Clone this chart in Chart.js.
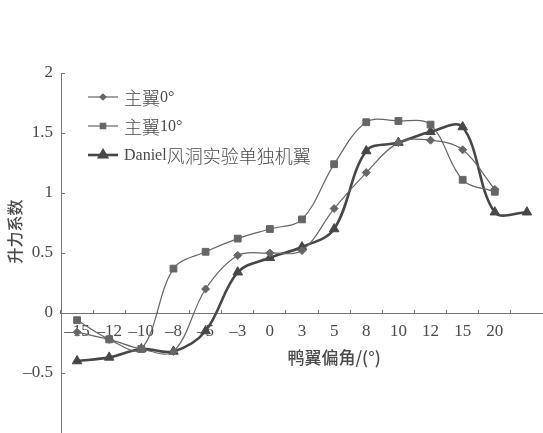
<!DOCTYPE html>
<html>
<head>
<meta charset="utf-8">
<script src="https://cdn.jsdelivr.net/npm/chart.js@4.4.0/dist/chart.umd.min.js"></script>
<style>
  html, body { margin: 0; padding: 0; background: #fff; }
  #wrap { width: 543px; height: 433px; }
</style>
</head>
<body>
<div id="wrap"><canvas id="liftChart" width="543" height="433"></canvas></div>
<script>
// canard deflection categories (last slot is unlabeled)
const angles = ['–15', '–12', '–10', '–8', '–5', '–3', '0', '3', '5', '8', '10', '12', '15', '20', ''];

const seriesNames = ['主翼0°', '主翼10°', 'Daniel风洞实验单独机翼'];
const wing0 = [-0.16, -0.22, -0.30, -0.32, 0.20, 0.48, 0.50, 0.52, 0.87, 1.17, 1.42, 1.44, 1.36, 1.03, null];
const wing10 = [-0.06, -0.22, -0.30, 0.37, 0.51, 0.62, 0.70, 0.78, 1.24, 1.59, 1.60, 1.57, 1.11, 1.01, null];
const daniel = [-0.40, -0.37, -0.30, -0.32, -0.15, 0.34, 0.46, 0.55, 0.70, 1.35, 1.42, 1.51, 1.55, 0.84, 0.84];

const yTicks = [2, 1.5, 1, 0.5, 0, -0.5];

const SERIF = '"Liberation Serif", "Times New Roman", serif';
const CJK = '"Noto Sans CJK SC", sans-serif';
const AXIS = '#777';
const INK = '#4a4a4a';

// draw a string, switching font between latin and CJK runs
function mixedText(ctx, str, x, y, latinPx, cjkPx) {
    const runs = str.match(/[\u4e00-\u9fff]+|[^\u4e00-\u9fff]+/g) || [];
    runs.forEach(function(run) {
        const isCjk = /[\u4e00-\u9fff]/.test(run);
        ctx.font = isCjk ? '300 ' + cjkPx + 'px ' + CJK : latinPx + 'px ' + SERIF;
        ctx.fillText(run, x, y);
        x += ctx.measureText(run).width;
    });
}

const styles = [
    { color: '#666', width: 1.2, point: 'rectRot', radius: 4 },
    { color: '#666', width: 1.2, point: 'rect', radius: 4.8 },
    { color: '#474747', width: 2.6, point: 'triangle', radius: 5.5 }
];

// scales should not reserve room for half-labels at their ends
function noEdgePadding(scale) {
    scale.paddingTop = 0;
    scale.paddingBottom = 0;
    scale.paddingLeft = 0;
    scale.paddingRight = 0;
}

const decorations = {
    id: 'decorations',
    afterDraw: function(chart) {
        const ctx = chart.ctx;
        const xs = chart.scales.x;
        const ys = chart.scales.y;
        const area = chart.chartArea;
        ctx.save();
        ctx.fillStyle = INK;
        ctx.textBaseline = 'middle';

        // x axis title
        ctx.font = '500 17px ' + CJK;
        ctx.textAlign = 'center';
        ctx.fillText('鸭翼偏角/(°)', xs.getPixelForValue(8), ys.getPixelForValue(-0.37));

        // y axis title
        ctx.save();
        ctx.translate(15, ys.getPixelForValue(0.68));
        ctx.rotate(-Math.PI / 2);
        ctx.font = '500 16px ' + CJK;
        ctx.fillText('升力系数', 0, 0);
        ctx.restore();

        // legend inside plot, upper left
        ctx.textAlign = 'left';
        seriesNames.forEach(function(name, i) {
            const s = styles[i];
            const y = area.top + 24 + i * 29;
            const x0 = area.left + 27;
            ctx.strokeStyle = s.color;
            ctx.lineWidth = s.width;
            ctx.beginPath();
            ctx.moveTo(x0, y);
            ctx.lineTo(x0 + 30, y);
            ctx.stroke();
            ctx.fillStyle = s.color;
            Chart.helpers.drawPoint(ctx, { pointStyle: s.point, radius: s.radius - 1, borderWidth: 1 }, x0 + 15, y);
            ctx.fillStyle = INK;
            mixedText(ctx, name, x0 + 36, y + 1, 16, 18);
        });
        ctx.restore();
    }
};

const datasets = [wing0, wing10, daniel].map(function(values, i) {
    const s = styles[i];
    return {
        label: seriesNames[i],
        data: values,
        borderColor: s.color,
        backgroundColor: s.color,
        borderWidth: s.width,
        pointStyle: s.point,
        pointRadius: s.radius,
        pointBorderWidth: 1,
        tension: 0.35,
        clip: false
    };
});

new Chart(document.getElementById('liftChart'), {
    type: 'line',
    data: { labels: angles, datasets: datasets },
    options: {
        responsive: false,
        animation: false,
        layout: { autoPadding: false, padding: { top: 73, right: 0, bottom: 0, left: 0 } },
        plugins: { legend: { display: false }, tooltip: { enabled: false } },
        scales: {
            x: {
                type: 'category',
                position: { y: 0 },
                offset: true,
                afterFit: noEdgePadding,
                grid: { offset: true, drawOnChartArea: false, tickLength: -4, color: AXIS },
                border: { color: AXIS, width: 1 },
                ticks: { color: INK, font: { family: SERIF, size: 17 }, padding: 12, maxRotation: 0, autoSkip: false }
            },
            y: {
                min: -1,
                max: 2,
                afterFit: function(scale) {
                    scale.width = 61;
                    noEdgePadding(scale);
                },
                afterBuildTicks: function(scale) {
                    scale.ticks = [-1].concat(yTicks.slice().reverse()).map(function(v) { return { value: v }; });
                },
                grid: { drawOnChartArea: false, tickLength: -4, color: AXIS },
                border: { color: AXIS, width: 1 },
                ticks: {
                    color: INK,
                    font: { family: SERIF, size: 17 },
                    padding: 12,
                    callback: function(v) {
                        if (v === -1) return '';
                        return v < 0 ? '–' + Math.abs(v) : String(v);
                    }
                }
            }
        }
    },
    plugins: [decorations]
});
</script>
</body>
</html>
